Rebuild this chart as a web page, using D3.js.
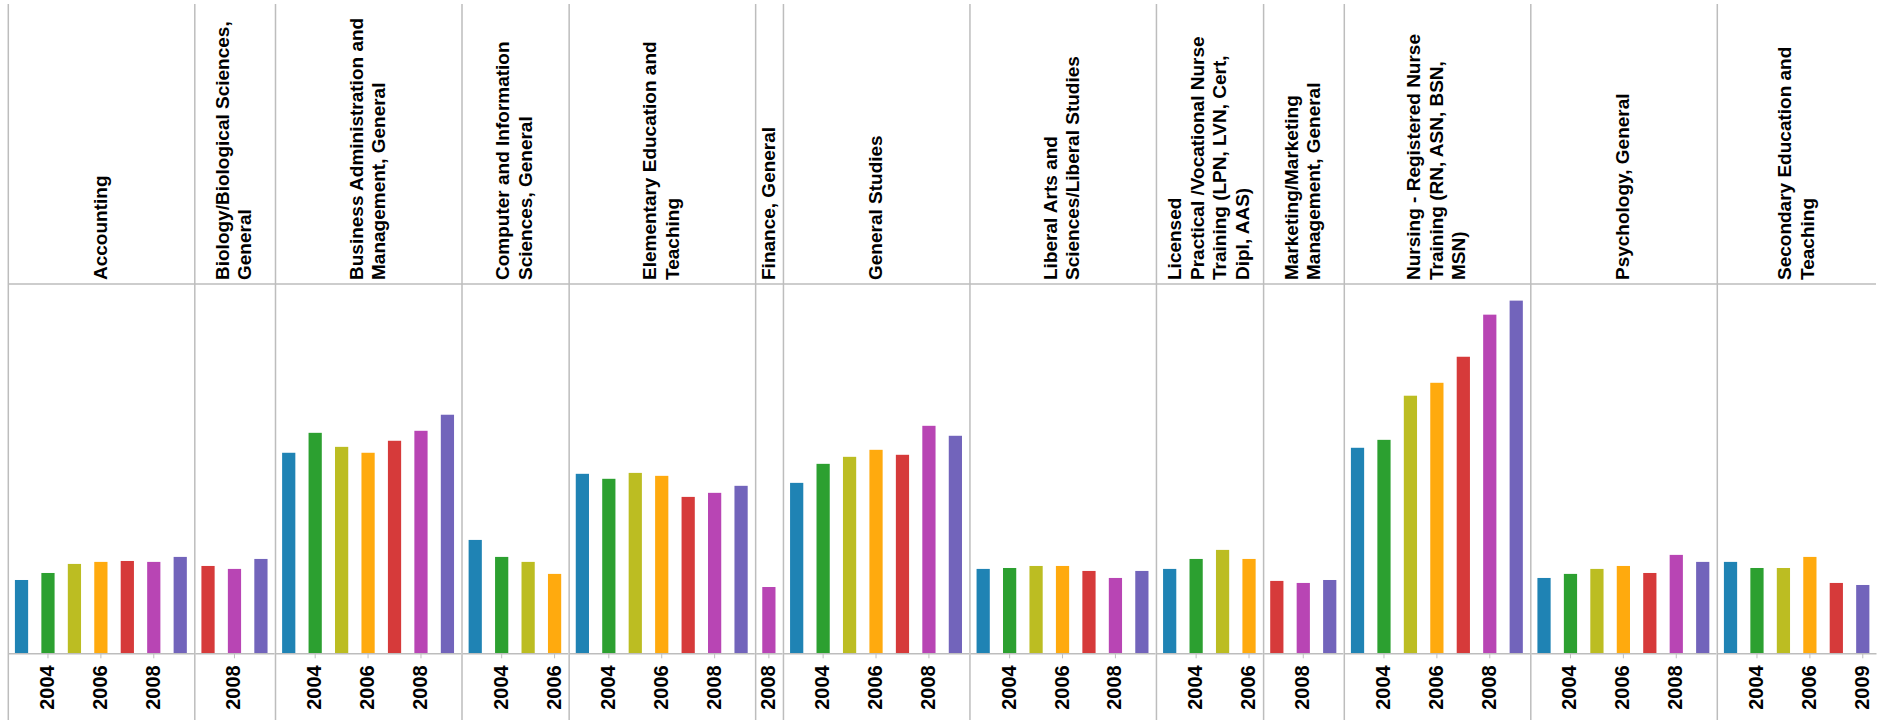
<!DOCTYPE html>
<html>
<head>
<meta charset="utf-8">
<script src="https://cdn.jsdelivr.net/npm/d3@7"></script>
<style>
  body { margin: 0; background: #fff; }
  text { font-family: "Liberation Sans", Arial, sans-serif; font-weight: bold; fill: #000; }
</style>
</head>
<body>
<svg id="chart"></svg>
<script>
var years = [2003, 2004, 2005, 2006, 2007, 2008, 2009];

var majors = [
  "Accounting",
  "Biology/Biological Sciences, General",
  "Business Administration and Management, General",
  "Computer and Information Sciences, General",
  "Elementary Education and Teaching",
  "Finance, General",
  "General Studies",
  "Liberal Arts and Sciences/Liberal Studies",
  "Licensed Practical /Vocational Nurse Training (LPN, LVN, Cert, Dipl, AAS)",
  "Marketing/Marketing Management, General",
  "Nursing - Registered Nurse Training (RN, ASN, BSN, MSN)",
  "Psychology, General",
  "Secondary Education and Teaching"
];

// header labels as they wrap in the picture
var majorLines = [
  ["Accounting"],
  ["Biology/Biological Sciences,", "General"],
  ["Business Administration and", "Management, General"],
  ["Computer and Information", "Sciences, General"],
  ["Elementary Education and", "Teaching"],
  ["Finance, General"],
  ["General Studies"],
  ["Liberal Arts and", "Sciences/Liberal Studies"],
  ["Licensed", "Practical /Vocational Nurse", "Training (LPN, LVN, Cert,", "Dipl, AAS)"],
  ["Marketing/Marketing", "Management, General"],
  ["Nursing - Registered Nurse", "Training (RN, ASN, BSN,", "MSN)"],
  ["Psychology, General"],
  ["Secondary Education and", "Teaching"]
];

// degrees awarded per year (null = no data that year), same order as majors
var degrees = [
  [397, 435, 484, 495, 500, 495, 522],
  [null, null, null, null, 473, 457, 511],
  [1086, 1194, 1118, 1086, 1151, 1205, 1292],
  [614, 522, 495, 430, null, null, null],
  [972, 945, 977, 961, 847, 869, 907],
  [null, null, null, null, null, 359, null],
  [923, 1026, 1064, 1102, 1075, 1232, 1178],
  [457, 462, 473, 473, 446, 408, 446],
  [457, 511, 560, 511, null, null, null],
  [null, null, null, null, 392, 381, 397],
  [1113, 1156, 1395, 1465, 1606, 1834, 1910],
  [408, 430, 457, 473, 435, 533, 495],
  [495, 462, 462, 522, 381, null, 370]
];

var yearColors = ["#1f83b4", "#2ca030", "#bcbd22", "#ffaa0e", "#d63a3a", "#b845b4", "#7264bb"];

var W = 1889, H = 720;
var left = 8.3, step = 26.45, gap = 1.35;
var lineTop = 4, headerBottom = 284, plotBottom = 653.3, labelBase = 280;
var gridColor = "#bdbdbd";

var svg = d3.select("#chart")
    .attr("width", W)
    .attr("height", H);

var color = d3.scaleOrdinal()
    .domain(years)
    .range(yearColors);

var y = d3.scaleLinear()
    .domain([0, 2000])
    .range([plotBottom, headerBottom]);

// build facets with their own band scales
var facets = [];
var xPos = left;
majors.forEach(function(m, i) {
  var rows = years.map(function(yr, j) { return {year: yr, value: degrees[i][j]}; })
      .filter(function(d) { return d.value != null; });
  var w = rows.length * step;
  var x = d3.scaleBand()
      .domain(rows.map(function(d) { return d.year; }))
      .range([xPos, xPos + w])
      .paddingInner(0.5)
      .paddingOuter(0.25);
  facets.push({major: m, lines: majorLines[i], rows: rows, x0: xPos, x1: xPos + w, x: x});
  xPos += w + gap;
});
var right = facets[facets.length - 1].x1;

// horizontal rule under the headers
svg.append("line")
    .attr("x1", left).attr("x2", right)
    .attr("y1", headerBottom).attr("y2", headerBottom)
    .attr("stroke", gridColor).attr("stroke-width", 1.5);

var cell = svg.selectAll(".facet")
  .data(facets)
  .enter().append("g")
    .attr("class", "facet");

// separators at the left edge of every facet
cell.append("line")
    .attr("x1", function(d) { return d.x0; })
    .attr("x2", function(d) { return d.x0; })
    .attr("y1", lineTop).attr("y2", H)
    .attr("stroke", gridColor).attr("stroke-width", 1.5);

// bars
cell.selectAll(".bar")
  .data(function(d) { return d.rows.map(function(r) { return {r: r, x: d.x}; }); })
  .enter().append("rect")
    .attr("class", "bar")
    .attr("x", function(d) { return d.x(d.r.year); })
    .attr("width", function(d) { return d.x.bandwidth(); })
    .attr("y", function(d) { return y(d.r.value); })
    .attr("height", function(d) { return plotBottom - y(d.r.value); })
    .attr("fill", function(d) { return color(d.r.year); });

// x axes: only every other year gets a label
cell.each(function(d) {
  var dom = d.x.domain();
  var shown = dom.length === 1 ? dom : dom.filter(function(v, i) { return i % 2 === 1; });
  var ax = d3.select(this).append("g")
      .attr("class", "axis axis--x")
      .attr("transform", "translate(0," + plotBottom + ")")
      .call(d3.axisBottom(d.x).tickValues(shown).tickSize(5).tickSizeOuter(0));
  ax.select(".domain").attr("stroke", gridColor).attr("stroke-width", 1.5);
  ax.selectAll(".tick line").attr("stroke", gridColor);
  ax.selectAll(".tick text")
      .attr("transform", "rotate(-90)")
      .attr("x", -12)
      .attr("y", 0)
      .attr("dy", "0.3em")
      .attr("text-anchor", "end")
      .style("font-family", "'Liberation Sans', Arial, sans-serif")
      .style("font-weight", "bold")
      .style("font-size", "20px")
      .attr("fill", "#000");
});

// facet headers, rotated and wrapped
var fs = 19, lh = 22.4;
cell.append("text")
    .attr("class", "header")
    .attr("transform", function(d) {
      return "translate(" + ((d.x0 + d.x1) / 2) + "," + labelBase + ") rotate(-90)";
    })
    .attr("text-anchor", "start")
    .style("font-size", fs + "px")
  .selectAll("tspan")
  .data(function(d) { return d.lines.map(function(t) { return {t: t, n: d.lines.length}; }); })
  .enter().append("tspan")
    .attr("x", 0)
    .attr("dy", function(d, i) { return i === 0 ? (0.3 * fs - (d.n - 1) / 2 * lh) : lh; })
    .text(function(d) { return d.t; });
</script>
</body>
</html>
